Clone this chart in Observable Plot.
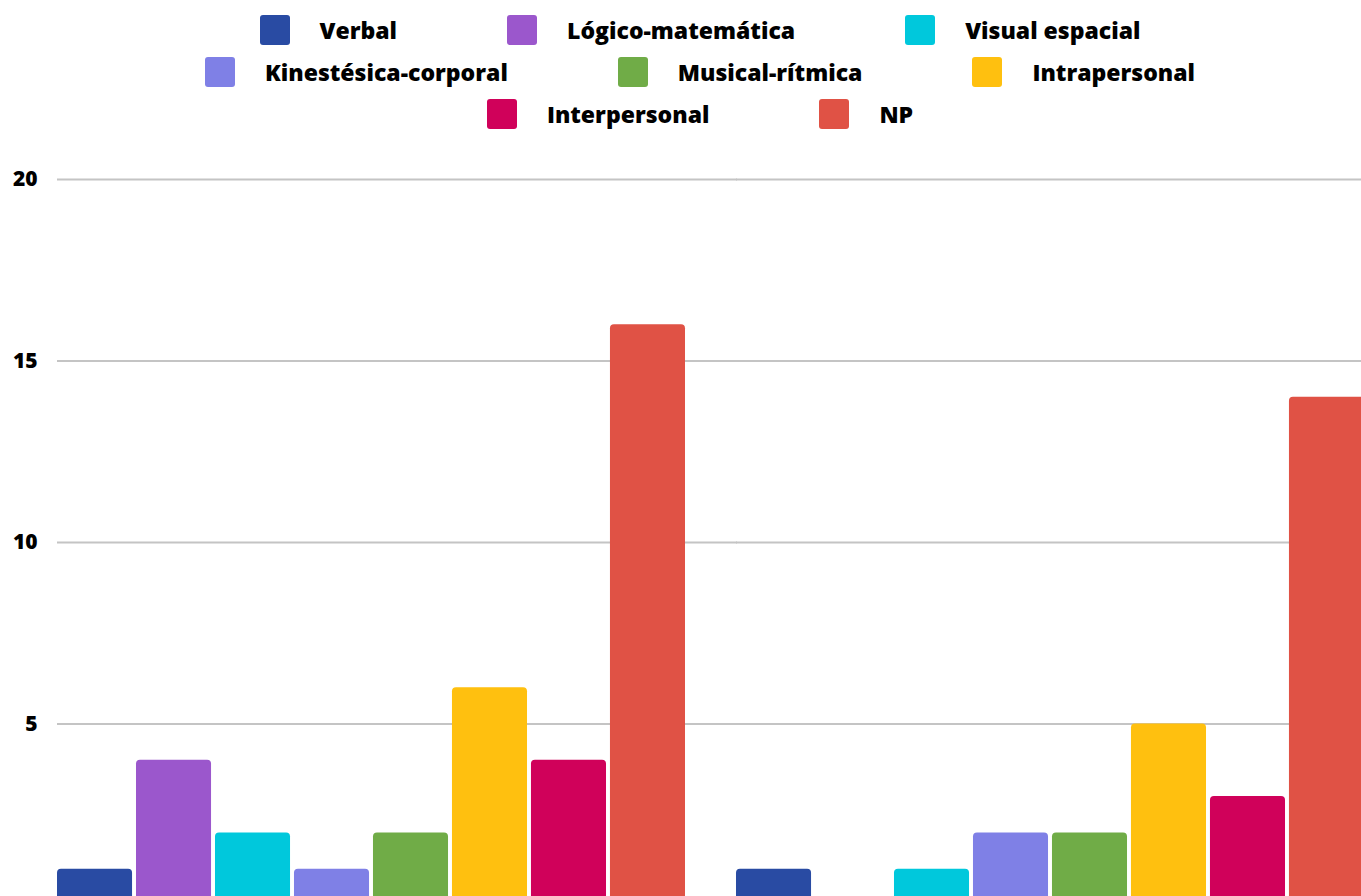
<!DOCTYPE html>
<html>
<head>
<meta charset="utf-8">
<script src="https://cdn.jsdelivr.net/npm/d3@7"></script>
<script src="https://cdn.jsdelivr.net/npm/@observablehq/plot@0.6"></script>
<style>
  html, body { margin: 0; padding: 0; background: #fff; overflow: hidden; }
  #wrap { width: 1400px; font-family: "Open Sans", "Noto Sans", sans-serif; }
  #legend { padding-top: 15px; height: 125px; box-sizing: border-box; }
  .row { display: flex; justify-content: center; gap: 110px; height: 30px; margin-bottom: 12px; }
  .item { display: flex; align-items: center; gap: 30px; font-weight: 800; font-size: 23px; color: #000; white-space: nowrap; }
  .sw { width: 30px; height: 30px; border-radius: 3px; }
  svg text { font-family: "Open Sans", "Noto Sans", sans-serif; }
</style>
</head>
<body>
<div id="wrap">
  <div id="legend"></div>
  <div id="chart"></div>
</div>
<script>
const groups = ["Grupo 1", "Grupo 2"];
const series = ["Verbal", "Lógico-matemática", "Visual espacial", "Kinestésica-corporal", "Musical-rítmica", "Intrapersonal", "Interpersonal", "NP"];
const colors = ["#294ba3", "#9b57cc", "#00c8dc", "#7f80e6", "#70ac47", "#ffc00f", "#d0015a", "#e05245"];
const values1 = [1, 4, 2, 1, 2, 6, 4, 16];
const values2 = [1, 0, 1, 2, 2, 5, 3, 14];
const yTicks = [0, 5, 10, 15, 20];
const legendRows = [[0, 1, 2], [3, 4, 5], [6, 7]];

const data = [];
series.forEach((s, i) => {
  data.push({group: groups[0], series: s, value: values1[i]});
  data.push({group: groups[1], series: s, value: values2[i]});
});

// Legend
const legend = document.getElementById("legend");
legendRows.forEach(r => {
  const row = document.createElement("div");
  row.className = "row";
  r.forEach(i => {
    const it = document.createElement("div");
    it.className = "item";
    const sw = document.createElement("div");
    sw.className = "sw";
    sw.style.background = colors[i];
    const t = document.createElement("span");
    t.textContent = series[i];
    it.appendChild(sw);
    it.appendChild(t);
    row.appendChild(it);
  });
  legend.appendChild(row);
});

const plot = Plot.plot({
  width: 1400,
  height: 820,
  marginTop: 54,
  marginBottom: 40,
  marginLeft: 57,
  marginRight: 36,
  style: {fontSize: "21px", fontWeight: "800", color: "#000", background: "#fff"},
  fx: {domain: groups, paddingInner: 0.0751, paddingOuter: 0, round: false, axis: null},
  x: {domain: series, paddingInner: 0.05, paddingOuter: 0, round: false, axis: null},
  y: {domain: [0, 20], ticks: yTicks, tickSize: 0, tickPadding: 20, label: null},
  color: {domain: series, range: colors},
  marks: [
    Plot.ruleY(yTicks, {stroke: "#c4c4c4", strokeWidth: 2, insetRight: -52}),
    Plot.barY(data, {fx: "group", x: "series", y: "value", fill: "series", rx: 4})
  ]
});
document.getElementById("chart").appendChild(plot);
</script>
</body>
</html>
